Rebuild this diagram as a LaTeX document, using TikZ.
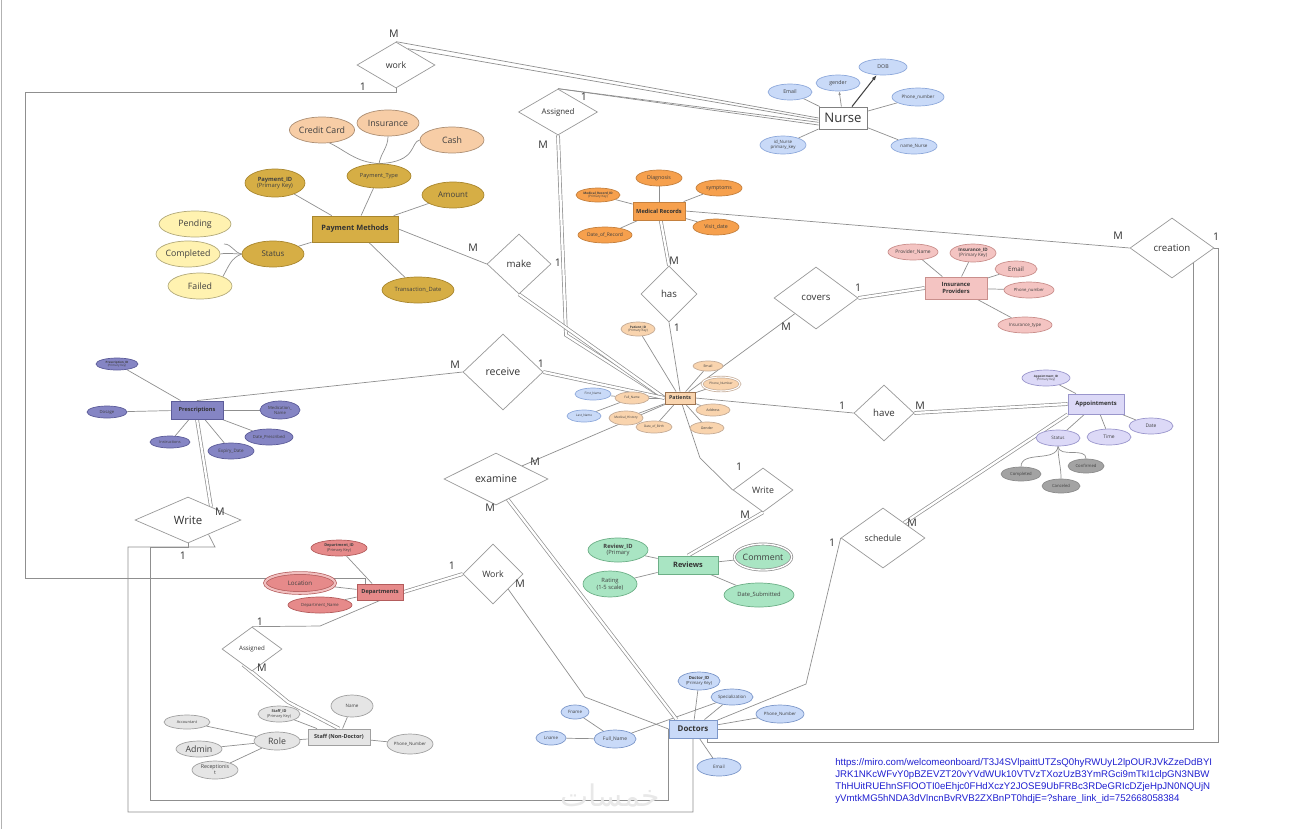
\documentclass[tikz,border=0pt]{standalone}
\usepackage{fontspec}
\setmainfont{Open Sans}
\newfontfamily\urlfont{Liberation Sans}
\newfontfamily\arabicfont[Script=Arabic]{DejaVu Sans}
\TeXXeTstate=1
\usetikzlibrary{shapes.geometric,arrows.meta}
\pgfdeclarelayer{bg}
\pgfsetlayers{bg,main}

\definecolor{lnGray}{HTML}{8F8F8F}
\definecolor{nurseBl}{HTML}{C9DAF8}
\definecolor{nurseBd}{HTML}{8EA9DB}
\definecolor{mrOr}{HTML}{F6A04D}
\definecolor{mrBd}{HTML}{C4803E}
\definecolor{payGold}{HTML}{D6AE45}
\definecolor{payBd}{HTML}{A8862E}
\definecolor{payPeach}{HTML}{F7CDA6}
\definecolor{payYel}{HTML}{FFF2B0}
\definecolor{insPk}{HTML}{F4C4C2}
\definecolor{insBd}{HTML}{C98F8C}
\definecolor{patPch}{HTML}{F9D4AE}
\definecolor{patBd}{HTML}{9C7350}
\definecolor{preLil}{HTML}{8585C4}
\definecolor{preBd}{HTML}{5C5C99}
\definecolor{apLav}{HTML}{DCD9F7}
\definecolor{apBd}{HTML}{9A96CC}
\definecolor{apGray}{HTML}{A3A3A3}
\definecolor{depRed}{HTML}{E68A8A}
\definecolor{depBd}{HTML}{B35C5C}
\definecolor{revGrn}{HTML}{A9E5C3}
\definecolor{revBd}{HTML}{6DAF87}
\definecolor{stGray}{HTML}{E5E5E5}
\definecolor{stBd}{HTML}{A0A0A0}
\definecolor{docBl}{HTML}{C9DAF8}
\definecolor{docBd}{HTML}{7C97C9}
\definecolor{urlBlue}{HTML}{1F1FD0}

\newcommand\setfs[1]{\fontsize{#1}{#1}\linespread{1.15}\selectfont}

\begin{document}
\begin{tikzpicture}[x=0.02cm,y=-0.02cm,
  ent/.style={rectangle,draw,inner sep=0pt,line width=0.5pt,text=black!80},
  rel/.style={diamond,draw=black!40,fill=white,inner sep=0pt,line width=0.4pt,text=black!80},
  attr/.style={ellipse,draw,inner sep=0pt,line width=0.4pt,align=center,text=black!75},
  nAttr/.style={attr,fill=nurseBl,draw=nurseBd},
  mAttr/.style={attr,fill=mrOr,draw=mrBd},
  gAttr/.style={attr,fill=payGold,draw=payBd},
  kAttr/.style={attr,fill=payPeach,draw=payPeach!70!black},
  yAttr/.style={attr,fill=payYel,draw=payYel!70!black},
  iAttr/.style={attr,fill=insPk,draw=insBd},
  ptAttr/.style={attr,fill=patPch,draw=patBd!60},
  prAttr/.style={attr,fill=preLil,draw=preBd},
  apAttr/.style={attr,fill=apLav,draw=apBd},
  agAttr/.style={attr,fill=apGray,draw=black!45},
  dAttr/.style={attr,fill=depRed,draw=depBd},
  rvAttr/.style={attr,fill=revGrn,draw=revBd},
  sAttr/.style={attr,fill=stGray,draw=stBd},
  dcAttr/.style={attr,fill=docBl,draw=docBd},
  card/.style={text=black!80,font=\setfs{6}},
  ln/.style={draw=lnGray,line width=0.4pt},
  dbl/.style={draw=lnGray,line width=0.4pt,double=white,double distance=1.3pt}]

\useasboundingbox (0,0) rectangle (1293,829);
\draw[black!30] (1,0) -- (1,829);

% entities
\node[ent,font=\setfs{7.5},minimum width=0.96cm,minimum height=0.44cm,fill=white,draw=black!50] (nurse) at (843,118) {Nurse};
\node[ent,font=\bfseries\setfs{3.2},minimum width=1.04cm,minimum height=0.36cm,fill=mrOr,draw=mrBd] (medrec) at (659,211) {Medical Records};
\node[ent,font=\bfseries\setfs{4.2},minimum width=1.72cm,minimum height=0.52cm,fill=payGold,draw=payBd] (paymeth) at (355,229) {Payment Methods};
\node[ent,font=\bfseries\setfs{3.3},minimum width=1.24cm,minimum height=0.44cm,fill=insPk,draw=insBd,align=center] (insprov) at (956,288) {Insurance\\Providers};
\node[ent,font=\bfseries\setfs{3},minimum width=0.6cm,minimum height=0.24cm,fill=patPch,draw=patBd] (patients) at (680,398) {Patients};
\node[ent,font=\bfseries\setfs{3.2},minimum width=1.04cm,minimum height=0.36cm,fill=preLil,draw=preBd] (presc) at (197,410) {Prescriptions};
\node[ent,font=\bfseries\setfs{3.3},minimum width=1.12cm,minimum height=0.4cm,fill=apLav,draw=apBd] (appts) at (1096,404) {Appointments};
\node[ent,font=\bfseries\setfs{3.2},minimum width=0.92cm,minimum height=0.32cm,fill=depRed,draw=depBd] (depts) at (380,592) {Departments};
\node[ent,font=\bfseries\setfs{4.2},minimum width=1.2cm,minimum height=0.36cm,fill=revGrn,draw=revBd] (reviews) at (688,565) {Reviews};
\node[ent,font=\bfseries\setfs{3.1},minimum width=1.24cm,minimum height=0.32cm,fill=stGray,draw=stBd] (staff) at (339,737) {Staff (Non-Doctor)};
\node[ent,font=\bfseries\setfs{4.5},minimum width=0.96cm,minimum height=0.36cm,fill=docBl,draw=docBd] (doctors) at (693,729) {Doctors};

% relationships
\node[rel,font=\setfs{5},minimum width=1.56cm,minimum height=0.92cm] (work) at (396,65) {work};
\node[rel,font=\setfs{4.5},minimum width=1.58cm,minimum height=0.92cm] (assignN) at (558,112) {Assigned};
\node[rel,font=\setfs{5.5},minimum width=1.28cm,minimum height=1.2cm] (make) at (519,264) {make};
\node[rel,font=\setfs{5.5},minimum width=1.12cm,minimum height=1.12cm] (has) at (669,294) {has};
\node[rel,font=\setfs{5.5},minimum width=1.68cm,minimum height=1.24cm] (covers) at (816,298) {covers};
\node[rel,font=\setfs{5.5},minimum width=1.68cm,minimum height=1.2cm] (creation) at (1172,248) {creation};
\node[rel,font=\setfs{6},minimum width=1.6cm,minimum height=1.52cm] (receive) at (503,372) {receive};
\node[rel,font=\setfs{5.5},minimum width=1.2cm,minimum height=1.12cm] (have) at (884,413) {have};
\node[rel,font=\setfs{6},minimum width=2.08cm,minimum height=1.04cm] (examine) at (496,479) {examine};
\node[rel,font=\setfs{5},minimum width=1.2cm,minimum height=0.88cm] (writeR) at (763,490) {Write};
\node[rel,font=\setfs{6.5},minimum width=2.12cm,minimum height=0.92cm] (writeP) at (188,520) {Write};
\node[rel,font=\setfs{5},minimum width=1.68cm,minimum height=1.2cm] (schedule) at (883,538) {schedule};
\node[rel,font=\setfs{5},minimum width=1.2cm,minimum height=1.2cm] (workD) at (493,574) {Work};
\node[rel,font=\setfs{3.5},minimum width=1.2cm,minimum height=0.88cm] (assignS) at (252,649) {Assigned};

% nurse attributes
\node[nAttr,font=\setfs{3},minimum width=0.88cm,minimum height=0.32cm] (nEmail) at (790,92) {Email};
\node[nAttr,font=\setfs{3},minimum width=0.88cm,minimum height=0.32cm] (nGender) at (838,83) {gender};
\node[nAttr,font=\setfs{3},minimum width=0.96cm,minimum height=0.32cm] (nDob) at (883,67) {DOB};
\node[nAttr,font=\setfs{2.6},minimum width=1.04cm,minimum height=0.36cm] (nPhone) at (918,97) {Phone\_number};
\node[nAttr,font=\setfs{2.5},minimum width=0.92cm,minimum height=0.36cm] (nIdN) at (783,145) {id\_Nurse\\primary\_key};
\node[nAttr,font=\setfs{2.6},minimum width=0.92cm,minimum height=0.32cm] (nName) at (914,146) {name\_Nurse};

% medical records attributes
\node[mAttr,font=\setfs{1.8},minimum width=0.88cm,minimum height=0.28cm] (mId) at (598,195) {\textbf{Medical\_Record\_ID}\\(Primary Key)};
\node[mAttr,font=\setfs{3},minimum width=0.92cm,minimum height=0.32cm] (mDiag) at (659,178) {Diagnosis};
\node[mAttr,font=\setfs{3},minimum width=0.92cm,minimum height=0.32cm] (mSympt) at (719,188) {symptoms};
\node[mAttr,font=\setfs{3},minimum width=0.92cm,minimum height=0.32cm] (mVisit) at (716,227) {Visit\_date};
\node[mAttr,font=\setfs{2.8},minimum width=1.08cm,minimum height=0.32cm] (mDate) at (605,235) {Date\_of\_Record};

% payment attributes
\node[gAttr,font=\setfs{3.2},minimum width=1.28cm,minimum height=0.48cm] (pType) at (379,176) {Payment\_Type};
\node[kAttr,font=\setfs{5},minimum width=1.24cm,minimum height=0.52cm] (pCredit) at (322,130) {Credit Card};
\node[kAttr,font=\setfs{5},minimum width=1.24cm,minimum height=0.52cm] (pIns) at (388,123) {Insurance};
\node[kAttr,font=\setfs{5},minimum width=1.28cm,minimum height=0.52cm] (pCash) at (452,140) {Cash};
\node[gAttr,font=\setfs{3.3},minimum width=1.2cm,minimum height=0.56cm] (pId) at (275,183) {\textbf{Payment\_ID}\\(Primary Key)};
\node[gAttr,font=\setfs{4.5},minimum width=1.24cm,minimum height=0.52cm] (pAmount) at (453,195) {Amount};
\node[gAttr,font=\setfs{4.5},minimum width=1.24cm,minimum height=0.52cm] (pStatus) at (273,254) {Status};
\node[yAttr,font=\setfs{5},minimum width=1.44cm,minimum height=0.52cm] (pPend) at (195,224) {Pending};
\node[yAttr,font=\setfs{5},minimum width=1.28cm,minimum height=0.52cm] (pCompl) at (188,254) {Completed};
\node[yAttr,font=\setfs{5},minimum width=1.28cm,minimum height=0.52cm] (pFailed) at (200,286) {Failed};
\node[gAttr,font=\setfs{3.3},minimum width=1.44cm,minimum height=0.52cm] (pTrans) at (418,290) {Transaction\_Date};
\coordinate (pStub) at (224,244);

% insurance attributes
\node[iAttr,font=\setfs{2.8},minimum width=1cm,minimum height=0.32cm] (iProv) at (913,252) {Provider\_Name};
\node[iAttr,font=\setfs{2.6},minimum width=0.92cm,minimum height=0.36cm] (iId) at (973,253) {\textbf{Insurance\_ID}\\(Primary Key)};
\node[iAttr,font=\setfs{3.5},minimum width=0.84cm,minimum height=0.32cm] (iEmail) at (1016,269) {Email};
\node[iAttr,font=\setfs{2.4},minimum width=1cm,minimum height=0.32cm] (iPhone) at (1029,290) {Phone\_number};
\node[iAttr,font=\setfs{2.6},minimum width=1.08cm,minimum height=0.32cm] (iType) at (1025,325) {Insurance\_type};

% patient attributes
\node[ptAttr,font=\setfs{1.8},minimum width=0.68cm,minimum height=0.28cm] (ptId) at (638,329) {\textbf{Patient\_ID}\\(Primary Key)};
\node[ptAttr,font=\setfs{2},minimum width=0.6cm,minimum height=0.2cm] (ptEmail) at (708,366) {Email};
\node[ptAttr,font=\setfs{1.8},minimum width=0.76cm,minimum height=0.28cm,double=white,double distance=0.6pt] (ptPhone) at (721,384) {Phone\_Number};
\node[ptAttr,font=\setfs{2},minimum width=0.68cm,minimum height=0.24cm] (ptAddr) at (713,410) {Address};
\node[ptAttr,font=\setfs{2},minimum width=0.68cm,minimum height=0.24cm] (ptGender) at (707,428) {Gender};
\node[ptAttr,font=\setfs{1.8},minimum width=0.72cm,minimum height=0.24cm] (ptDob) at (654,427) {Date\_of\_Birth};
\node[ptAttr,font=\setfs{1.8},minimum width=0.68cm,minimum height=0.28cm] (ptHist) at (626,418) {Medical\_History};
\node[ptAttr,font=\setfs{1.8},minimum width=0.68cm,minimum height=0.24cm] (ptName) at (632,398) {Full\_Name};
\node[nAttr,font=\setfs{1.8},minimum width=0.72cm,minimum height=0.24cm] (ptFirst) at (593,394) {First\_Name};
\node[nAttr,font=\setfs{1.8},minimum width=0.68cm,minimum height=0.24cm] (ptLast) at (584,416) {Last\_Name};

% prescription attributes
\node[prAttr,font=\setfs{1.7},minimum width=0.84cm,minimum height=0.24cm] (prId) at (117,364) {\textbf{Prescription\_ID}\\(Primary Key)};
\node[prAttr,font=\setfs{2.4},minimum width=0.8cm,minimum height=0.24cm] (prDose) at (107,412) {Dosage};
\node[prAttr,font=\setfs{2.4},minimum width=0.8cm,minimum height=0.36cm] (prMed) at (280,410) {Medication\_\\Name};
\node[prAttr,font=\setfs{2.4},minimum width=0.96cm,minimum height=0.32cm] (prDate) at (269,437) {Date\_Prescribed};
\node[prAttr,font=\setfs{2.6},minimum width=0.92cm,minimum height=0.32cm] (prExp) at (231,451) {Expiry\_Date};
\node[prAttr,font=\setfs{2.2},minimum width=0.8cm,minimum height=0.24cm] (prInst) at (170,442) {Instructions};

% appointment attributes
\node[apAttr,font=\setfs{1.7},minimum width=0.96cm,minimum height=0.32cm] (apId) at (1046,378) {\textbf{Appointment\_ID}\\(Primary Key)};
\node[apAttr,font=\setfs{2.6},minimum width=0.88cm,minimum height=0.32cm] (apStatus) at (1058,438) {Status};
\node[apAttr,font=\setfs{2.8},minimum width=0.88cm,minimum height=0.32cm] (apTime) at (1109,437) {Time};
\node[apAttr,font=\setfs{2.8},minimum width=0.88cm,minimum height=0.32cm] (apDate) at (1151,426) {Date};
\node[agAttr,font=\setfs{2.4},minimum width=0.8cm,minimum height=0.28cm] (apCompl) at (1021,474) {Completed};
\node[agAttr,font=\setfs{2.4},minimum width=0.76cm,minimum height=0.28cm] (apCanc) at (1061,486) {Canceled};
\node[agAttr,font=\setfs{2.4},minimum width=0.72cm,minimum height=0.28cm] (apConf) at (1086,466) {Confirmed};

% department attributes
\node[dAttr,font=\setfs{2.2},minimum width=1.12cm,minimum height=0.32cm] (dId) at (339,548) {\textbf{Department\_ID}\\(Primary Key)};
\node[dAttr,font=\setfs{3.5},minimum width=1.4cm,minimum height=0.4cm,double=depRed!55,double distance=1.2pt] (dLoc) at (300,583) {Location};
\node[dAttr,font=\setfs{2.4},minimum width=1.28cm,minimum height=0.32cm] (dName) at (320,605) {Department\_Name};

% review attributes
\node[rvAttr,font=\setfs{3.3},minimum width=1.2cm,minimum height=0.48cm] (rvId) at (618,550) {\textbf{Review\_ID}\\(Primary};
\node[rvAttr,font=\setfs{3.3},minimum width=1.08cm,minimum height=0.52cm] (rvRate) at (610,584) {Rating\\(1-5 scale)};
\node[rvAttr,font=\setfs{5},minimum width=1.12cm,minimum height=0.52cm,draw=black!45,double=white,double distance=0.8pt] (rvComm) at (763,557) {Comment};
\node[rvAttr,font=\setfs{3.3},minimum width=1.4cm,minimum height=0.48cm] (rvDate) at (759,595) {Date\_Submitted};

% staff attributes
\node[sAttr,font=\setfs{2.2},minimum width=0.84cm,minimum height=0.32cm] (sId) at (279,714) {\textbf{Staff\_ID}\\(Primary Key)};
\node[sAttr,font=\setfs{2.6},minimum width=0.84cm,minimum height=0.44cm] (sName) at (352,706) {Name};
\node[sAttr,font=\setfs{2.5},minimum width=0.92cm,minimum height=0.4cm] (sPhone) at (410,744) {Phone\_Number};
\node[sAttr,font=\setfs{5},minimum width=0.92cm,minimum height=0.36cm] (sRole) at (277,741) {Role};
\node[sAttr,font=\setfs{2.2},minimum width=0.92cm,minimum height=0.28cm] (sAcct) at (187,722) {Accountant};
\node[sAttr,font=\setfs{5},minimum width=0.92cm,minimum height=0.32cm] (sAdmin) at (199,749) {Admin};
\node[sAttr,font=\setfs{3},minimum width=0.92cm,minimum height=0.36cm] (sRecep) at (215,770) {Receptionis\\t};

% doctor attributes
\node[dcAttr,font=\setfs{2.4},minimum width=0.84cm,minimum height=0.36cm] (dcId) at (699,681) {\textbf{Doctor\_ID}\\(Primary Key)};
\node[dcAttr,font=\setfs{2.5},minimum width=0.84cm,minimum height=0.32cm] (dcSpec) at (732,697) {Specialization};
\node[dcAttr,font=\setfs{2.5},minimum width=0.96cm,minimum height=0.36cm] (dcPhone) at (780,714) {Phone\_Number};
\node[dcAttr,font=\setfs{2.6},minimum width=0.88cm,minimum height=0.36cm] (dcEmail) at (719,767) {Email};
\node[dcAttr,font=\setfs{2.8},minimum width=0.84cm,minimum height=0.36cm] (dcName) at (615,739) {Full\_Name};
\node[dcAttr,font=\setfs{2.5},minimum width=0.56cm,minimum height=0.28cm] (dcF) at (575,712) {Fname};
\node[dcAttr,font=\setfs{2.5},minimum width=0.6cm,minimum height=0.28cm] (dcL) at (551,738) {Lname};

% cardinalities
\foreach \t/\x/\y [count=\i] in {M/394/34, 1/363/87, 1/584/97, M/543/145, M/473/248,
    1/558/263, M/674/261, 1/677/328, 1/858/288, M/786/327, M/1118/236, 1/1216/237,
    M/455/365, 1/541/364, 1/842/406, M/920/406, M/535/462, M/490/508, 1/739/467,
    M/745/515, M/220/512, 1/183/556, M/912/523, 1/832/543, 1/452/566, M/520/584,
    1/260/622, M/262/668}
  \node[card] (card\i) at (\x,\y) {\t};

\node[anchor=north west,align=left,inner sep=0pt,text=urlBlue,font=\urlfont\fontsize{5.5}{6.9}\selectfont] (url) at (835,758)
  {https://miro.com/welcomeonboard/T3J4SVlpaittUTZsQ0hyRWUyL2lpOURJVkZzeDdBYI\\
   JRK1NKcWFvY0pBZEVZT20vYVdWUk10VTVzTXozUzB3YmRGci9mTkI1clpGN3NBW\\
   ThHUitRUEhnSFlOOTI0eEhjc0FHdXczY2JOSE9UbFRBc3RDeGRIcDZjeHpJN0NQUjN\\
   yVmtkMG5hNDA3dVlncnBvRVB2ZXBnPT0hdjE=?share\_link\_id=752668058384};
\node[text=black!9,font=\arabicfont\fontsize{17}{17}\selectfont] (wmark) at (610,795) {\beginR خمسات\endR};

\begin{pgfonlayer}{bg}
% attribute links
\foreach \a in {nEmail,nPhone,nIdN,nName} \draw[ln] (nurse) -- (\a);
\draw[ln,-{Latex[length=2pt]}] (nurse) -- (nGender);
\draw[black!75,line width=0.6pt,-{Latex[length=3pt]}] (nurse) -- (nDob);
\foreach \a in {mId,mDiag,mSympt,mVisit,mDate} \draw[ln] (medrec) -- (\a);
\foreach \a in {pType,pId,pAmount,pStatus,pTrans} \draw[ln] (paymeth) -- (\a);
\draw[ln] (pCredit.-60) .. controls (345,150) and (355,162) .. (pType.north);
\draw[ln] (pIns.south) to[out=-90,in=80] (pType.north);
\draw[ln] (pCash.west) .. controls (410,142) and (418,162) .. (pType.north);
\draw[ln] (pStub) to[out=0,in=170] (pStatus.west);
\draw[ln] (pCompl.east) to[out=10,in=180] (pStatus.west);
\draw[ln] (pFailed.north east) to[out=60,in=200] (pStatus.west);
\foreach \a in {iProv,iId,iEmail,iPhone,iType} \draw[ln] (insprov) -- (\a);
\foreach \a in {ptId,ptEmail,ptPhone,ptAddr,ptGender,ptDob,ptHist,ptName} \draw[ln] (patients) -- (\a);
\draw[ln] (ptName) -- (ptFirst);
\draw[ln] (ptName) -- (ptLast);
\foreach \a in {prId,prDose,prMed,prDate,prExp,prInst} \draw[ln] (presc) -- (\a);
\foreach \a in {apId,apStatus,apTime,apDate} \draw[ln] (appts) -- (\a);
\draw[ln] (apCompl.north) to[out=90,in=-95] (apStatus.south);
\draw[ln] (apCanc.north) to[out=90,in=-90] (apStatus.south);
\draw[ln] (apConf.north) to[out=90,in=-85] (apStatus.south);
\foreach \a in {dId,dLoc,dName} \draw[ln] (depts) -- (\a);
\foreach \a in {rvId,rvRate,rvComm,rvDate} \draw[ln] (reviews) -- (\a);
\foreach \a in {sId,sName,sPhone,sRole} \draw[ln] (staff) -- (\a);
\foreach \a in {sAcct,sAdmin,sRecep} \draw[ln] (sRole) -- (\a);
\foreach \a in {dcId,dcSpec,dcPhone,dcEmail} \draw[ln] (doctors) -- (\a);
\draw[ln] (dcName) -- (dcSpec);
\draw[ln] (dcName) -- (dcF);
\draw[ln] (dcName) -- (dcL);

% relationship links
\draw[ln] (work.north) -- (nurse.west);
\draw[ln] (work.54) -- (nurse.185);
\draw[ln] (work.south) -- (396,92) -- (25,92) -- (25,578) -| (depts.150);
\draw[ln] (assignN.north) -- (nurse.190);
\draw[ln] (assignN.north) -- (nurse.196);
\draw[dbl] (assignN.south) -- (566,335) -- (patients.west);
\draw[ln] (paymeth.east) -- (make.west);
\draw[dbl] (make.south) -- (patients.west);
\draw[dbl] (medrec) -- (has.north);
\draw[ln] (has.south) -- (patients.north);
\draw[dbl] (covers.east) -- (insprov.west);
\draw[ln] (covers.south west) -- (patients);
\draw[ln] (medrec.east) -- (creation.west);
\draw[ln] (creation.-35) |- (doctors.east);
\draw[ln] (creation.east) -| (1218,742) -| (doctors.-33);
\draw[ln] (presc.north) -- (receive.west);
\draw[dbl] (receive.east) -- (patients.west);
\draw[ln] (patients.east) -- (have.west);
\draw[dbl] (have.east) -- (appts.west);
\draw[ln] (examine.north east) -- (patients);
\draw[dbl] (examine.-60) -- (doctors.150);
\draw[ln] (patients) -- (700,458) -- (writeR.west);
\draw[dbl] (writeR.south) -- (reviews.north);
\draw[dbl] (presc.south) -- (writeP.30);
\draw[ln] (writeP.-35) -- (215,547) -- (128,547) -- (128,812) -| (doctors.south);
\draw[ln] (writeP.south) -- (188,547) -- (150,547) -- (150,800) -| (doctors.west);
\draw[dbl] (schedule.north east) -- (appts.south west);
\draw[ln] (schedule.west) -- (806,684) -- (doctors.20);
\draw[dbl] (depts.east) -- (workD.west);
\draw[ln] (workD.south east) -- (585,697) -- (doctors.west);
\draw[ln] (depts.south) -- (320,626) -- (assignS.north);
\draw[dbl] (assignS.-120) -- (288,702) -- (staff.north);
\end{pgfonlayer}
\end{tikzpicture}
\end{document}
